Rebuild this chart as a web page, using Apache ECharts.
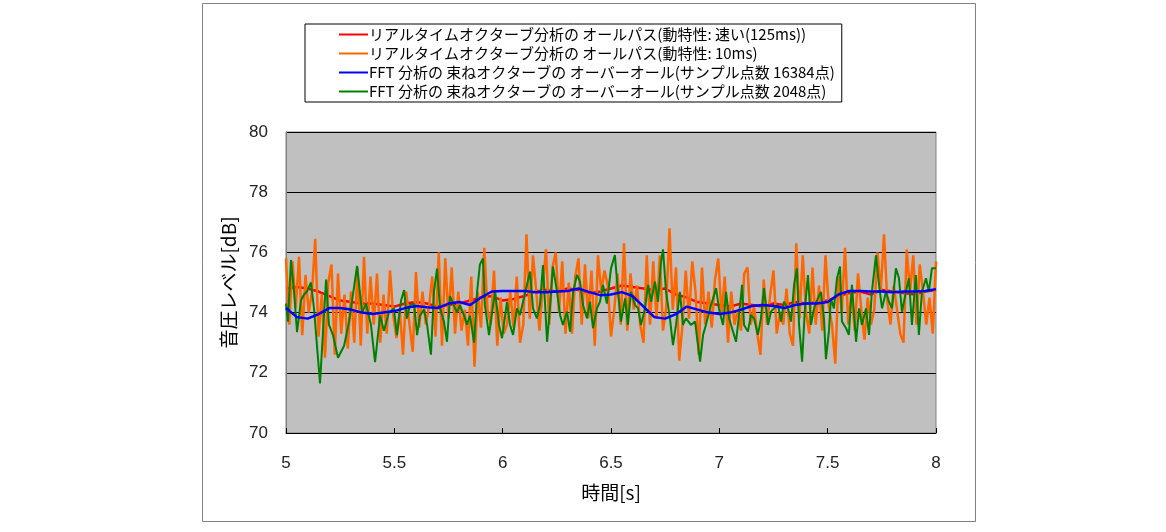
<!DOCTYPE html>
<html>
<head>
<meta charset="utf-8">
<script src="https://cdn.jsdelivr.net/npm/echarts@6/dist/echarts.min.js"></script>
<style>
  html, body { margin: 0; padding: 0; background: #ffffff; }
  #chart { width: 1166px; height: 532px; }
</style>
</head>
<body>
<div id="chart"></div>
<script>
// Series names (legend order)
const seriesNames = [
  'リアルタイムオクターブ分析の オールパス(動特性: 速い(125ms))',
  'リアルタイムオクターブ分析の オールパス(動特性: 10ms)',
  'FFT 分析の 束ねオクターブの オーバーオール(サンプル点数 16384点)',
  'FFT 分析の 束ねオクターブの オーバーオール(サンプル点数 2048点)'
];

// Real-time octave analysis, time weighting "fast" (125 ms), sampled every 0.05 s from 5.0 s
const fastStart = 5.0, fastStep = 0.05;
const fastLevel = [
  74.8, 74.85, 74.8, 74.7, 74.55, 74.4, 74.35, 74.3, 74.3, 74.25,
  74.2, 74.3, 74.35, 74.3, 74.2, 74.25, 74.3, 74.4, 74.5, 74.55,
  74.4, 74.45, 74.55, 74.7, 74.75, 74.7, 74.8, 74.75, 74.65, 74.7,
  74.8, 74.9, 74.85, 74.8, 74.75, 74.8, 74.6, 74.5, 74.35, 74.3,
  74.25, 74.2, 74.3, 74.25, 74.2, 74.3, 74.25, 74.35, 74.3, 74.35,
  74.4, 74.55, 74.65, 74.7, 74.6, 74.75, 74.7, 74.65, 74.6, 74.7,
  74.75
];

// Real-time octave analysis, 10 ms time weighting, sampled every 0.015 s from 5.0 s
const shortStart = 5.0, shortStep = 0.015;
const shortLevel = [
  75.8, 73.6, 75.7, 74.15, 75.85, 73.25, 75.25, 74.0, 74.7, 76.45,
  73.2, 74.6, 72.5, 75.0, 75.6, 72.6, 75.3, 73.3, 74.6, 72.8,
  74.7, 73.0, 75.5, 72.9, 75.85, 73.3, 75.2, 73.6, 75.3, 73.0,
  74.6, 73.3, 75.4, 73.9, 73.15, 74.1, 72.6, 74.7, 73.6, 72.7,
  75.35, 73.5, 74.7, 73.6, 74.2, 75.2, 73.2, 76.0, 72.9, 75.8,
  73.8, 75.5, 73.3, 74.7, 73.4, 74.1, 72.9, 75.2, 72.2, 74.7,
  73.5, 76.15, 74.1, 73.6, 75.4, 72.9, 74.5, 73.3, 73.6, 74.7,
  73.5, 75.2, 73.0, 73.6, 76.6, 73.8, 75.9, 74.7, 73.4, 74.9,
  76.1, 73.6, 75.5, 76.0, 74.0, 75.7, 73.3, 75.0, 73.3, 75.2,
  75.8, 73.6, 75.6, 73.8, 75.4, 72.9, 75.9, 74.7, 75.4, 74.9,
  73.2, 74.1, 75.3, 73.6, 76.3, 73.4, 75.3, 74.1, 74.9, 73.6,
  73.0, 75.9, 73.6, 75.7, 73.8, 75.9, 73.4, 74.2, 76.8, 74.1,
  75.5, 72.4, 73.6, 75.4, 73.8, 75.7, 74.7, 72.6, 75.5, 73.6,
  74.7, 73.5, 75.1, 75.8, 73.9, 75.2, 73.0, 74.7, 73.6, 74.1,
  73.4, 75.3, 75.5, 73.6, 74.2, 73.3, 72.6, 75.1, 73.6, 74.6,
  75.4, 73.3, 74.0, 73.6, 74.8, 73.3, 72.9, 76.3, 73.8, 75.9,
  74.0, 73.3, 75.5, 73.6, 74.9, 73.4, 75.9, 74.2, 73.6, 72.3,
  75.2, 74.0, 76.15, 73.6, 74.7, 73.4, 75.3, 74.1, 73.1, 74.5,
  73.6, 74.1, 76.0, 74.7, 76.6, 74.4, 73.6, 74.9, 74.1, 73.3,
  73.0, 76.1, 74.7, 75.9, 73.6, 75.6, 74.7, 73.6, 74.5, 73.3,
  75.7
];

// FFT overall from banded octaves, 16384-point frames, sampled every 0.05 s from 5.0 s
const fft16kStart = 5.0, fft16kStep = 0.05;
const fft16kLevel = [
  74.15, 73.85, 73.8, 73.95, 74.15, 74.15, 74.1, 74.0, 73.95, 74.0,
  74.05, 74.15, 74.22, 74.18, 74.15, 74.3, 74.35, 74.25, 74.5, 74.7,
  74.72, 74.72, 74.72, 74.68, 74.68, 74.7, 74.72, 74.8, 74.68, 74.58,
  74.6, 74.68, 74.55, 74.2, 73.85, 73.8, 73.95, 74.2, 74.1, 74.0,
  73.95, 74.0, 74.1, 74.22, 74.25, 74.22, 74.15, 74.25, 74.3, 74.3,
  74.35, 74.6, 74.72, 74.72, 74.7, 74.7, 74.68, 74.7, 74.7, 74.72,
  74.78
];

// FFT overall from banded octaves, 2048-point frames
const fft2kTime = [
  5.000, 5.009, 5.023, 5.037, 5.051, 5.069, 5.083, 5.097, 5.115, 5.129,
  5.157, 5.185, 5.198, 5.217, 5.240, 5.268, 5.291, 5.305, 5.328, 5.351,
  5.369, 5.392, 5.411, 5.434, 5.452, 5.475, 5.498, 5.512, 5.531, 5.545,
  5.558, 5.572, 5.591, 5.605, 5.618, 5.637, 5.651, 5.669, 5.683, 5.697,
  5.711, 5.729, 5.743, 5.757, 5.775, 5.789, 5.803, 5.822, 5.835, 5.849,
  5.868, 5.882, 5.895, 5.909, 5.918, 5.937, 5.951, 5.965, 5.983, 5.997,
  6.020, 6.034, 6.048, 6.066, 6.080, 6.094, 6.112, 6.126, 6.140, 6.158,
  6.172, 6.186, 6.205, 6.218, 6.232, 6.251, 6.265, 6.278, 6.297, 6.311,
  6.325, 6.343, 6.357, 6.371, 6.389, 6.403, 6.417, 6.435, 6.449, 6.463,
  6.481, 6.500, 6.518, 6.532, 6.546, 6.565, 6.578, 6.592, 6.611, 6.625,
  6.638, 6.657, 6.671, 6.685, 6.703, 6.717, 6.731, 6.740, 6.754, 6.772,
  6.786, 6.800, 6.818, 6.832, 6.846, 6.869, 6.888, 6.911, 6.925, 6.938,
  6.957, 6.971, 6.985, 6.998, 7.017, 7.031, 7.045, 7.063, 7.077, 7.091,
  7.105, 7.114, 7.132, 7.146, 7.160, 7.178, 7.192, 7.206, 7.225, 7.238,
  7.252, 7.271, 7.285, 7.298, 7.317, 7.331, 7.345, 7.358, 7.368, 7.382,
  7.395, 7.409, 7.423, 7.437, 7.455, 7.469, 7.483, 7.492, 7.506, 7.515,
  7.529, 7.543, 7.557, 7.566, 7.585, 7.598, 7.612, 7.631, 7.645, 7.658,
  7.677, 7.691, 7.704, 7.723, 7.737, 7.751, 7.769, 7.783, 7.797, 7.815,
  7.829, 7.843, 7.861, 7.875, 7.889, 7.907, 7.921, 7.935, 7.954, 7.967,
  7.981, 8.000
];
const fft2kLevel = [
  74.3, 73.7, 75.75, 74.7, 73.35, 74.4, 74.6, 74.7, 75.0, 74.15,
  71.65, 75.1, 73.6, 73.25, 72.5, 72.9, 73.7, 74.4, 75.55, 74.0,
  74.3, 73.6, 72.35, 73.9, 73.4, 74.0, 74.14, 73.25, 74.4, 74.75,
  73.8, 74.25, 74.3, 73.25, 73.9, 74.1, 73.6, 72.6, 74.7, 75.46,
  74.14, 73.7, 73.03, 74.55, 74.25, 74.0, 74.25, 73.9, 73.6, 73.9,
  73.0, 74.7, 75.6, 75.8, 74.25, 73.25, 74.0, 74.7, 73.6, 73.15,
  74.36, 73.59, 73.26, 74.14, 73.92, 74.36, 74.92, 75.36, 74.14, 73.81,
  74.25, 75.58, 73.03, 74.14, 75.53, 74.69, 73.92, 73.59, 74.03, 73.37,
  74.69, 75.25, 75.03, 74.25, 73.81, 74.36, 73.48, 74.14, 74.36, 74.92,
  74.3, 75.47, 75.91, 74.69, 73.7, 74.47, 73.59, 74.69, 74.25, 74.14,
  73.59, 74.14, 74.92, 74.36, 75.03, 74.36, 75.69, 76.1, 74.69, 73.81,
  72.92, 73.59, 74.69, 73.59, 73.81, 73.59, 73.7, 72.37, 73.26, 73.59,
  74.14, 74.47, 74.81, 74.14, 73.59, 74.69, 73.81, 73.37, 73.03, 73.92,
  74.92, 73.59, 73.37, 73.92, 73.81, 73.26, 73.81, 74.81, 73.59, 74.03,
  74.14, 74.25, 73.7, 74.36, 74.14, 73.7, 74.92, 75.47, 73.59, 72.37,
  74.14, 75.25, 73.59, 74.14, 74.47, 74.69, 73.8, 72.45, 73.4, 74.47,
  74.14, 75.14, 75.53, 73.7, 73.48, 73.26, 74.92, 73.03, 74.14, 73.59,
  74.14, 73.26, 74.69, 75.9, 74.92, 74.14, 74.69, 74.36, 74.14, 75.47,
  75.14, 74.03, 74.69, 75.14, 73.59, 75.25, 73.26, 74.69, 75.14, 74.69,
  75.47, 75.47
];

// Axis settings
const timeMin = 5, timeMax = 8, timeInterval = 0.5;
const levelMin = 70, levelMax = 80, levelInterval = 2;
const timeAxisTitle = '時間[s]';
const levelAxisTitle = '音圧レベル[dB]';

function regular(start, step, values) {
  return values.map((v, i) => [+(start + i * step).toFixed(4), v]);
}
function paired(times, values) {
  return times.map((t, i) => [t, values[i]]);
}

const chart = echarts.init(document.getElementById('chart'), null, { renderer: 'canvas' });

const labelFont = '"Liberation Sans", Arial, sans-serif';
const jpFont = '"Noto Sans CJK JP", "Noto Sans", sans-serif';

chart.setOption({
  animation: false,
  backgroundColor: '#ffffff',
  graphic: [
    {
      type: 'rect',
      shape: { x: 202.5, y: 3.5, width: 773, height: 518 },
      style: { fill: 'none', stroke: '#808080', lineWidth: 1 },
      silent: true,
      z: -10
    }
  ],
  legend: {
    orient: 'vertical',
    left: 305,
    top: 24,
    padding: [1, 7, 1, 34],
    itemGap: 0,
    itemWidth: 29,
    itemHeight: 2,
    icon: 'rect',
    backgroundColor: '#ffffff',
    borderColor: '#000000',
    borderWidth: 1,
    borderRadius: 0,
    selectedMode: false,
    textStyle: {
      fontFamily: jpFont,
      fontSize: 15,
      color: '#000000',
      lineHeight: 19,
      padding: [0, 0, 0, -4]
    },
    data: seriesNames
  },
  grid: {
    left: 286,
    right: 230,
    top: 132,
    bottom: 99,
    show: true,
    backgroundColor: '#c0c0c0',
    borderColor: '#808080',
    borderWidth: 1,
    containLabel: false
  },
  xAxis: {
    type: 'value',
    min: timeMin,
    max: timeMax,
    interval: timeInterval,
    name: timeAxisTitle,
    nameLocation: 'middle',
    nameGap: 50,
    nameTextStyle: { fontFamily: jpFont, fontSize: 19, color: '#000000' },
    axisLine: { show: true, lineStyle: { color: '#000000', width: 1 } },
    axisTick: { show: true, inside: true, length: 5, lineStyle: { color: '#000000' } },
    axisLabel: {
      fontFamily: labelFont,
      fontSize: 17,
      color: '#222222',
      margin: 22,
      formatter: v => String(+v.toFixed(1))
    },
    splitLine: { show: false }
  },
  yAxis: {
    type: 'value',
    min: levelMin,
    max: levelMax,
    interval: levelInterval,
    name: levelAxisTitle,
    nameLocation: 'middle',
    nameRotate: 90,
    nameGap: 47,
    nameTextStyle: { fontFamily: jpFont, fontSize: 19, color: '#000000' },
    axisLine: { show: true, lineStyle: { color: '#808080', width: 1 } },
    axisTick: { show: false },
    axisLabel: {
      fontFamily: labelFont,
      fontSize: 17,
      color: '#222222',
      margin: 18
    },
    splitLine: { show: true, lineStyle: { color: '#000000', width: 1 } }
  },
  series: [
    {
      name: seriesNames[0],
      type: 'line',
      data: regular(fastStart, fastStep, fastLevel),
      showSymbol: false,
      symbol: 'none',
      lineStyle: { color: '#ff0000', width: 2.5 },
      itemStyle: { color: '#ff0000' },
      z: 2
    },
    {
      name: seriesNames[1],
      type: 'line',
      data: regular(shortStart, shortStep, shortLevel),
      showSymbol: false,
      symbol: 'none',
      lineStyle: { color: '#ff6600', width: 2.5 },
      itemStyle: { color: '#ff6600' },
      z: 3
    },
    {
      name: seriesNames[2],
      type: 'line',
      data: regular(fft16kStart, fft16kStep, fft16kLevel),
      showSymbol: false,
      symbol: 'none',
      lineStyle: { color: '#0000ff', width: 2.5 },
      itemStyle: { color: '#0000ff' },
      z: 5
    },
    {
      name: seriesNames[3],
      type: 'line',
      data: paired(fft2kTime, fft2kLevel),
      showSymbol: false,
      symbol: 'none',
      lineStyle: { color: '#008000', width: 2 },
      itemStyle: { color: '#008000' },
      z: 4
    }
  ]
});
</script>
</body>
</html>
